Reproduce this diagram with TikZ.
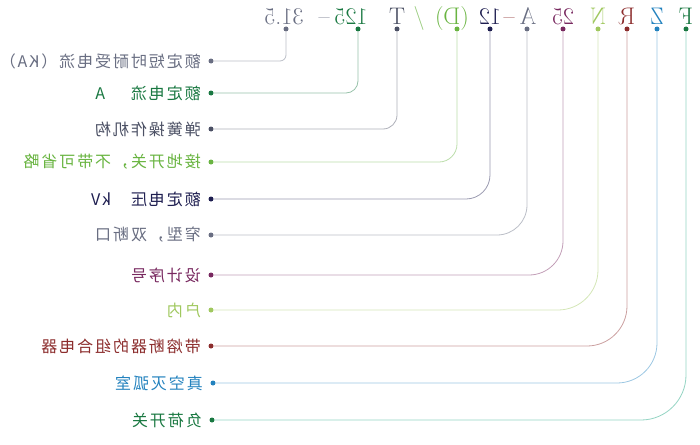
\documentclass[tikz,border=0pt]{standalone}
\usepackage{fontspec}
\newfontfamily\cjk[LetterSpace=12]{Noto Sans CJK SC}
\usetikzlibrary{positioning}
\definecolor{fzgreen}{RGB}{25,120,65}
\definecolor{fzblue}{RGB}{35,130,190}
\definecolor{fzred}{RGB}{140,45,45}
\definecolor{fzlime}{RGB}{160,200,95}
\definecolor{fzplum}{RGB}{120,40,95}
\definecolor{fzgrey}{RGB}{105,110,130}
\definecolor{fznavy}{RGB}{30,30,80}
\definecolor{fzleaf}{RGB}{105,180,65}
\definecolor{fzslate}{RGB}{75,80,100}

\tikzset{
  codetxt/.style={xscale=-1, anchor=base, inner sep=0pt, font=\fontsize{24}{24}\selectfont, text=#1},
  tag/.style={xscale=-1, anchor=west, inner sep=0pt, font=\cjk\fontsize{16}{16}\selectfont, text=#1},
  pin/.style={circle, fill=#1, inner sep=0pt, minimum size=5pt},
  lead/.style={draw=#1!45, line width=0.8pt}
}

\begin{document}
\begin{tikzpicture}[x=1pt, y=-1pt]
    \useasboundingbox (0,0) rectangle (700,444);

    % Model code
    \node[codetxt=fzgreen] (cF) at (686,25) {F};
    \node[codetxt=fzblue] (cZ) at (657,25) {Z};
    \node[codetxt=fzred] (cR) at (627,25) {R};
    \node[codetxt=fzlime] (cN) at (598,25) {N};
    \node[codetxt=fzplum] (c25) at (563,25) {25};
    \node[codetxt=fzgrey] (cA) at (528,25) {A};
    \node[codetxt=fzred] (cdashA) at (509,25) {--};
    \node[codetxt=fznavy] (c12) at (490,25) {12};
    \node[codetxt=fzleaf] (cD) at (452,25) {(D)};
    \node[codetxt=fzleaf!70] (cslash) at (419,25) {/};
    \node[codetxt=fzslate] (cT) at (397,25) {T};
    \node[codetxt=fzgreen] (c125) at (351,25) {125};
    \node[codetxt=fzgrey] (cdashB) at (324,25) {--};
    \node[codetxt=fzgrey] (c315) at (284,25) {31.5};

    % Pins under the code
    \node[pin=fzgreen] (tF) at (686,29) {};
    \node[pin=fzblue] (tZ) at (657,29) {};
    \node[pin=fzred] (tR) at (627,29) {};
    \node[pin=fzlime] (tN) at (598,29) {};
    \node[pin=fzplum] (t25) at (563,29) {};
    \node[pin=fzgrey] (tA) at (527,29) {};
    \node[pin=fznavy] (t12) at (490,29) {};
    \node[pin=fzleaf] (tD) at (457,29) {};
    \node[pin=fzslate] (tT) at (397,29) {};
    \node[pin=fzgreen] (t125) at (358,29) {};
    \node[pin=fzgrey] (t315) at (286,29) {};

    % Pins at the labels
    \node[pin=fzgrey] (d315) at (211,61) {};
    \node[pin=fzgreen] (d125) at (211,93) {};
    \node[pin=fzslate] (dT) at (211,129) {};
    \node[pin=fzleaf] (dD) at (211,162) {};
    \node[pin=fznavy] (d12) at (211,199) {};
    \node[pin=fzgrey] (dA) at (211,235) {};
    \node[pin=fzplum] (d25) at (211,275) {};
    \node[pin=fzlime] (dN) at (211,310) {};
    \node[pin=fzred] (dR) at (211,346) {};
    \node[pin=fzblue] (dZ) at (213,383) {};
    \node[pin=fzgreen] (dF) at (212,420) {};

    % Labels
    \node[tag=fzgrey] (l315) at (201,61) {额定短时耐受电流（KA）};
    \node[tag=fzgreen] (l125) at (201,93) {额定电流\hspace{26pt}A};
    \node[tag=fzslate] (lT) at (201,129) {弹簧操作机构};
    \node[tag=fzleaf] (lD) at (201,162) {接地开关，不带可省略};
    \node[tag=fznavy] (l12) at (201,199) {额定电压\hspace{20pt}kV};
    \node[tag=fzgrey] (lA) at (201,235) {窄型，双断口};
    \node[tag=fzplum] (l25) at (201,275) {设计序号};
    \node[tag=fzlime] (lN) at (201,310) {户内};
    \node[tag=fzred] (lR) at (201,346) {带熔断器的组合电器};
    \node[tag=fzblue] (lZ) at (203,383) {真空灭弧室};
    \node[tag=fzgreen] (lF) at (202,420) {负荷开关};

    % Connections
    \draw[lead=fzgrey, rounded corners=6pt] (t315) |- (d315);
    \draw[lead=fzgreen, rounded corners=12pt] (t125) |- (d125);
    \draw[lead=fzslate, rounded corners=14pt] (tT) |- (dT);
    \draw[lead=fzleaf, rounded corners=18pt] (tD) |- (dD);
    \draw[lead=fznavy, rounded corners=24pt] (t12) |- (d12);
    \draw[lead=fzgrey, rounded corners=30pt] (tA) |- (dA);
    \draw[lead=fzplum, rounded corners=34pt] (t25) |- (d25);
    \draw[lead=fzlime, rounded corners=40pt] (tN) |- (dN);
    \draw[lead=fzred, rounded corners=40pt] (tR) |- (dR);
    \draw[lead=fzblue, rounded corners=40pt] (tZ) |- (dZ);
    \draw[lead=fzgreen!70!cyan, rounded corners=45pt] (tF) |- (dF);
\end{tikzpicture}
\end{document}
